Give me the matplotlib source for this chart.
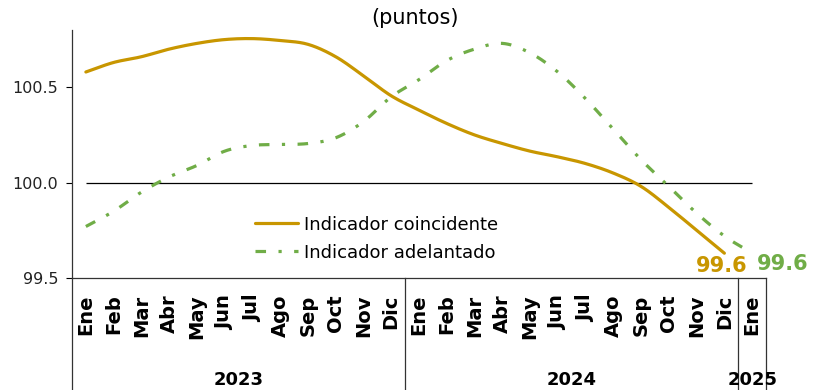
import numpy as np
import matplotlib.pyplot as plt
import matplotlib.transforms as mtransforms

# data
months = ['Ene', 'Feb', 'Mar', 'Abr', 'May', 'Jun', 'Jul', 'Ago', 'Sep', 'Oct', 'Nov', 'Dic',
          'Ene', 'Feb', 'Mar', 'Abr', 'May', 'Jun', 'Jul', 'Ago', 'Sep', 'Oct', 'Nov', 'Dic',
          'Ene']
years = ['2023', '2024', '2025']
year_sizes = [12, 12, 1]

coincidente = [100.58, 100.63, 100.66, 100.70, 100.73, 100.75, 100.755, 100.745, 100.725,
               100.66, 100.56, 100.455, 100.38, 100.31, 100.25, 100.205, 100.165, 100.135,
               100.10, 100.05, 99.98, 99.87, 99.75, 99.63]
adelantado = [99.77, 99.85, 99.95, 100.03, 100.09, 100.165, 100.195, 100.2, 100.205,
              100.235, 100.32, 100.45, 100.54, 100.64, 100.70, 100.73, 100.68, 100.58,
              100.44, 100.28, 100.12, 99.98, 99.84, 99.72, 99.63]

gold = '#C89600'
green = '#70AD47'


def smooth(y, n=20):
    # catmull-rom through the points, like excel's smoothed line
    y = np.asarray(y, dtype=float)
    p = np.concatenate([[2 * y[0] - y[1]], y, [2 * y[-1] - y[-2]]])
    xs, ys = [], []
    t = np.linspace(0, 1, n, endpoint=False)
    for i in range(1, len(p) - 2):
        p0, p1, p2, p3 = p[i - 1], p[i], p[i + 1], p[i + 2]
        v = 0.5 * (2 * p1 + (-p0 + p2) * t + (2 * p0 - 5 * p1 + 4 * p2 - p3) * t ** 2
                   + (-p0 + 3 * p1 - 3 * p2 + p3) * t ** 3)
        xs.extend(i - 1 + t)
        ys.extend(v)
    xs.append(len(y) - 1)
    ys.append(y[-1])
    return np.array(xs), np.array(ys)


plt.rcParams['font.family'] = ['DejaVu Sans']

fig = plt.figure(figsize=(8.19, 3.90), dpi=100)
ax = fig.add_axes([0.0879, 0.2872, 0.8474, 0.6358])

ax.hlines(100, 0, len(months) - 1, color='black', lw=0.9)

x1, y1 = smooth(coincidente)
ax.plot(x1, y1, color=gold, lw=2.3, solid_capstyle='round', label='Indicador coincidente')
x2, y2 = smooth(adelantado)
ln, = ax.plot(x2, y2, color=green, lw=2.3, label='Indicador adelantado')
ln.set_dashes((3.3, 3.9, 1.0, 3.9))

ax.annotate(f'{coincidente[-1]:.1f}', (len(coincidente) - 1, coincidente[-1]),
            xytext=(-2, -9), textcoords='offset points', ha='center', va='center',
            color=gold, fontsize=15, fontweight='bold', annotation_clip=False)
ax.annotate(f'{adelantado[-1]:.1f}', (len(adelantado) - 1, adelantado[-1]),
            xytext=(22, -8), textcoords='offset points', ha='center', va='center',
            color=green, fontsize=15, fontweight='bold', annotation_clip=False)

ax.set_xlim(-0.5, len(months) - 0.5)
ax.set_ylim(99.5, 100.8)
ax.set_yticks([99.5, 100.0, 100.5])
ax.set_yticklabels(['99.5', '100.0', '100.5'], fontsize=11.5, color='#222222')
ax.tick_params(axis='y', length=4, width=0.8, pad=6)

ax.set_xticks(range(len(months)))
ax.set_xticklabels(months, rotation=90, fontsize=14, fontweight='bold')
ax.tick_params(axis='x', length=0, pad=12)

for s in ['top', 'right']:
    ax.spines[s].set_visible(False)
ax.spines['left'].set_linewidth(0.9)
ax.spines['bottom'].set_linewidth(0.9)
ax.spines['left'].set_color('#333333')
ax.spines['bottom'].set_color('#333333')

# category group dividers and year labels below the axis
trans = mtransforms.blended_transform_factory(ax.transData, ax.transAxes)
start = -0.5
bounds = [start]
for n in year_sizes:
    bounds.append(bounds[-1] + n)
for b in bounds:
    ax.plot([b, b], [0, -0.46], transform=trans, color='#333333', lw=0.9, clip_on=False)
for i, yr in enumerate(years):
    mid = (bounds[i] + bounds[i + 1]) / 2
    ax.text(mid, -0.41, yr, transform=trans, ha='center', va='center',
            fontsize=13, fontweight='bold')

ax.legend(loc='lower left', bbox_to_anchor=(0.24, 0.0), frameon=False, fontsize=13,
          handlelength=2.4, handletextpad=0.3, labelspacing=0.55)

fig.text(0.507, 0.953, '(puntos)', ha='center', va='center', fontsize=15)

fig.savefig('out.png', dpi=100)
